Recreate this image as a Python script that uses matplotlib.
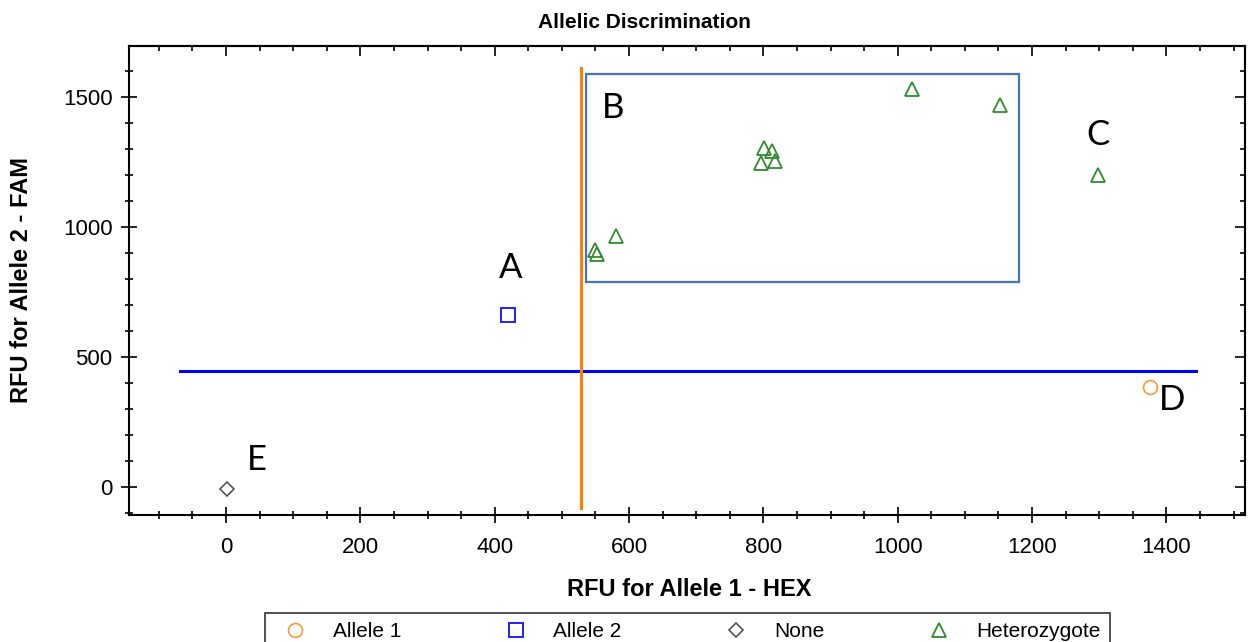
import matplotlib
matplotlib.use("Agg")
import matplotlib.pyplot as plt
from matplotlib.patches import Rectangle
from matplotlib.ticker import MultipleLocator

plt.rcParams['font.family'] = ['Liberation Sans', 'DejaVu Sans']

# data (RFU values)
allele1_hex = [1375]
allele1_fam = [387]
allele2_hex = [420]
allele2_fam = [663]
none_hex = [2]
none_fam = [-5]
het_hex = [1021, 1152, 801, 813, 796, 818, 580, 549, 553, 1298]
het_fam = [1530, 1470, 1304, 1295, 1246, 1256, 967, 912, 898, 1201]

# thresholds and cluster box
fam_threshold = 448
fam_threshold_span = [-68, 1444]
hex_threshold = 529
hex_threshold_span = [-81, 1612]
box_hex = [536, 1180]
box_fam = [791, 1590]

# group labels
group_names = ['A', 'B', 'C', 'D', 'E']
group_hex = [423, 576, 1298, 1409, 46]
group_fam = [843, 1459, 1355, 336, 105]

fig = plt.figure(figsize=(12.48, 6.42), dpi=100)
ax = fig.add_axes([129.3 / 1248, 1 - 515 / 642, (1245 - 129.3) / 1248, (515 - 46) / 642])

ax.plot(allele1_hex, allele1_fam, ls='none', marker='o', ms=10, mfc='none', mec='#ff9933', mew=1.2, label='Allele 1')
ax.plot(allele2_hex, allele2_fam, ls='none', marker='s', ms=9.5, mfc='none', mec='#2020ff', mew=1.4, label='Allele 2')
ax.plot(none_hex, none_fam, ls='none', marker='D', ms=7, mfc='none', mec='#555555', mew=1.2, label='None')
ax.plot(het_hex, het_fam, ls='none', marker='^', ms=10, mfc='none', mec='#2e8b2e', mew=1.3, label='Heterozygote')

ax.plot(fam_threshold_span, [fam_threshold, fam_threshold], color='#0000ff', lw=2.2, zorder=1)
ax.plot([hex_threshold, hex_threshold], hex_threshold_span, color='#ff8000', lw=2.2, zorder=1)
ax.add_patch(Rectangle((box_hex[0], box_fam[0]), box_hex[1] - box_hex[0], box_fam[1] - box_fam[0],
                       fill=False, edgecolor='#4472c4', lw=1.6, zorder=1))

for name, x, y in zip(group_names, group_hex, group_fam):
    ax.text(x, y, name, fontsize=25, family=['Lato', 'DejaVu Sans'], ha='center', va='center')

ax.set_xlim(-144, 1517)
ax.set_ylim(-106, 1697)

ax.xaxis.set_major_locator(MultipleLocator(200))
ax.xaxis.set_minor_locator(MultipleLocator(50))
ax.yaxis.set_major_locator(MultipleLocator(500))
ax.yaxis.set_minor_locator(MultipleLocator(100))
ax.tick_params(which='major', direction='inout', length=12, width=1.2, labelsize=16, pad=10)
ax.tick_params(which='minor', direction='inout', length=6, width=1.2)
ax.tick_params(axis='y', which='major', pad=6)
for sp in ax.spines.values():
    sp.set_linewidth(1.5)

# ticks on the top and right, pointing inward only
top = ax.secondary_xaxis('top')
right = ax.secondary_yaxis('right')
top.xaxis.set_major_locator(MultipleLocator(200))
top.xaxis.set_minor_locator(MultipleLocator(50))
right.yaxis.set_major_locator(MultipleLocator(500))
right.yaxis.set_minor_locator(MultipleLocator(100))
for sec in (top, right):
    sec.tick_params(which='major', direction='in', length=7, width=1.2, labelsize=0)
    sec.tick_params(which='minor', direction='in', length=3.5, width=1.2)
    for sp in sec.spines.values():
        sp.set_linewidth(1.5)
top.set_xticklabels([])
right.set_yticklabels([])

fig.text(644 / 1248, 1 - 28 / 642, 'Allelic Discrimination', fontsize=15, fontweight='bold',
         ha='center', va='baseline')
fig.text(689 / 1248, 1 - 596 / 642, 'RFU for Allele 1 - HEX', fontsize=17, fontweight='bold',
         ha='center', va='baseline')
fig.text(22 / 1248, 1 - 280 / 642, 'RFU for Allele 2 - FAM', fontsize=17, fontweight='bold',
         ha='center', va='center', rotation=90)

fig.legend(loc='upper left', bbox_to_anchor=(265 / 1248, 1 - 613 / 642, 845 / 1248, 0),
           mode='expand', ncol=4, borderaxespad=0, fontsize=15, frameon=True, fancybox=False,
           edgecolor='black', handletextpad=0.8, borderpad=0.45, numpoints=1)
fig.legends[0].get_frame().set_linewidth(1.2)

fig.savefig('out.png', dpi=100)
